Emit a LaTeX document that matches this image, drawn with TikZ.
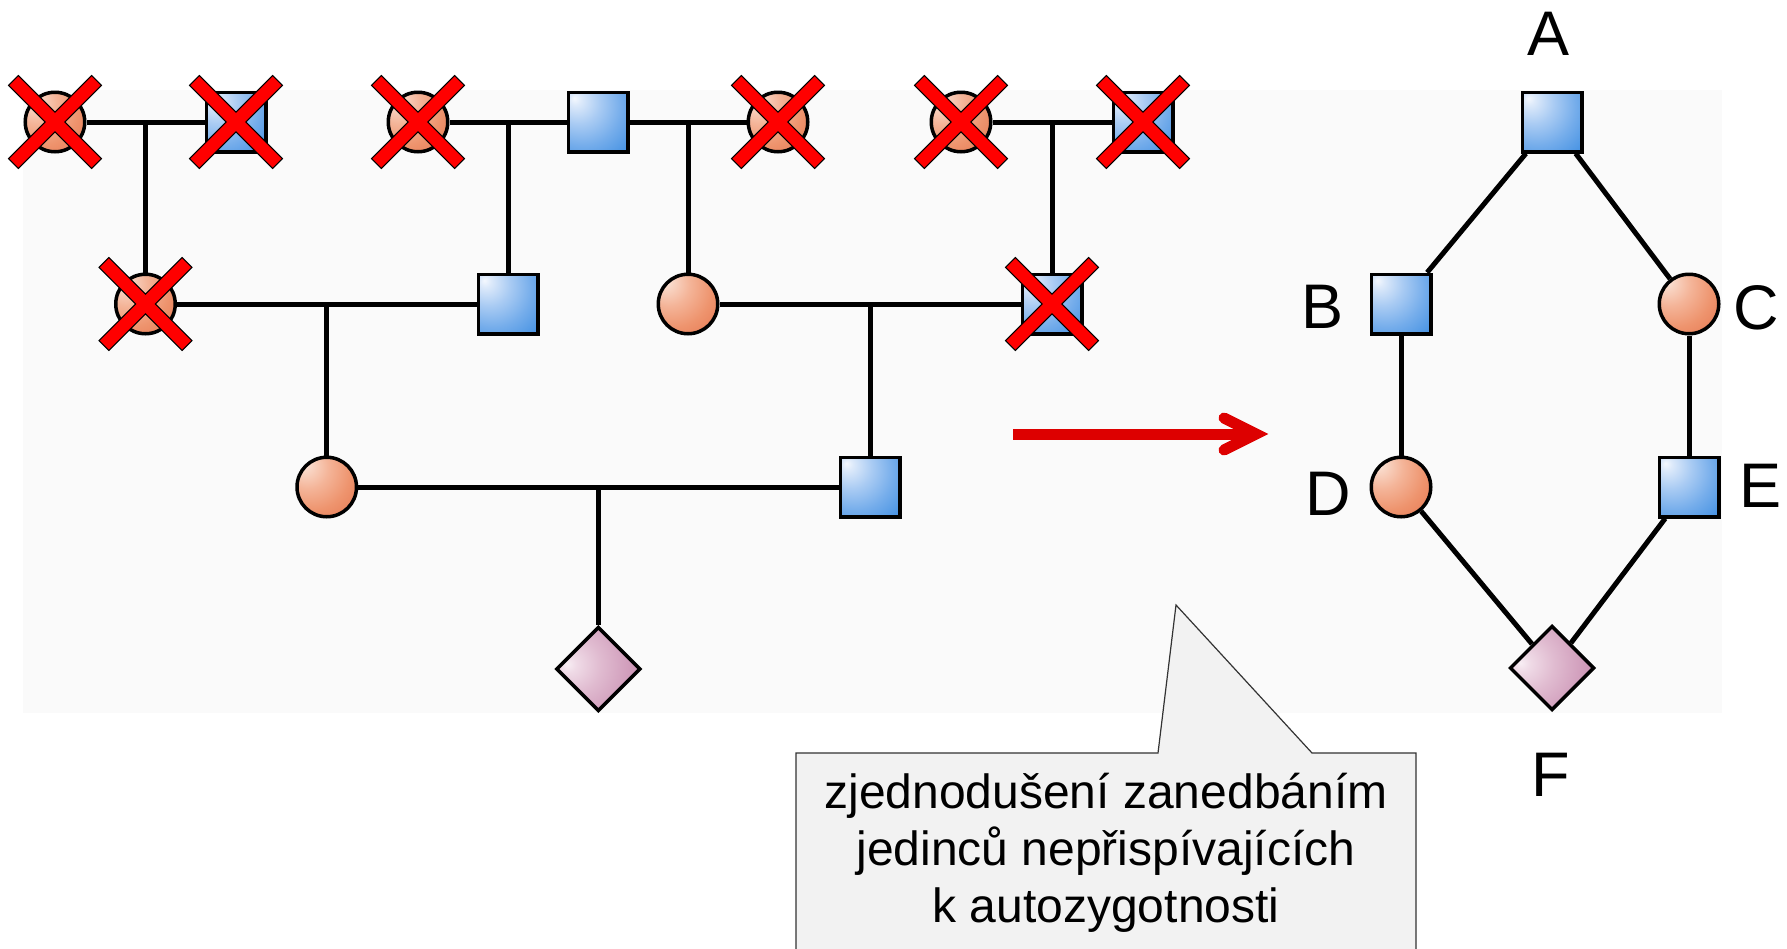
\documentclass[tikz,border=0pt]{standalone}
\usepackage{fontspec}
\setmainfont{Liberation Sans}
\usetikzlibrary{shapes.geometric,calc}

\definecolor{bgc}{HTML}{FAFAFA}
\definecolor{bl0}{HTML}{F4F8FE}
\definecolor{bl1}{HTML}{DCE9FA}
\definecolor{bl2}{HTML}{A9CBF3}
\definecolor{bl3}{HTML}{75ADEB}
\definecolor{bl4}{HTML}{4290E2}
\definecolor{bl5}{HTML}{1E79D7}
\definecolor{or0}{HTML}{FDF0EA}
\definecolor{or1}{HTML}{F9D8C8}
\definecolor{or2}{HTML}{F4B498}
\definecolor{or3}{HTML}{EE946E}
\definecolor{or4}{HTML}{E67750}
\definecolor{or5}{HTML}{DC6238}
\definecolor{pk0}{HTML}{F8EEF4}
\definecolor{pk1}{HTML}{EFDAE6}
\definecolor{pk2}{HTML}{E0BBD0}
\definecolor{pk3}{HTML}{D19EBC}
\definecolor{pk4}{HTML}{C183A8}
\definecolor{pk5}{HTML}{B06C96}
\definecolor{arrowred}{HTML}{DD0000}
\definecolor{xred}{HTML}{FF0000}
\definecolor{notefill}{HTML}{F2F2F2}
\definecolor{noteline}{HTML}{333333}

\pgfdeclareradialshading{bluesh}{\pgfpoint{-20bp}{20bp}}{color(0bp)=(bl0); color(5bp)=(bl1); color(18bp)=(bl2); color(33bp)=(bl3); color(50bp)=(bl4); color(68bp)=(bl5); color(100bp)=(bl5)}
\pgfdeclareradialshading{orangesh}{\pgfpoint{-20bp}{20bp}}{color(0bp)=(or0); color(5bp)=(or1); color(18bp)=(or2); color(33bp)=(or3); color(50bp)=(or4); color(66bp)=(or5); color(100bp)=(or5)}
\pgfdeclareradialshading{pinksh}{\pgfpoint{-19bp}{3bp}}{color(0bp)=(pk0); color(5bp)=(pk1); color(17bp)=(pk2); color(31bp)=(pk3); color(46bp)=(pk4); color(62bp)=(pk5); color(100bp)=(pk5)}

\tikzset{
  ind/.style={draw=black, line width=3.5pt, inner sep=0pt},
  male/.style={ind, rectangle, minimum size=59.5pt, shading=bluesh},
  female/.style={ind, circle, minimum size=59.5pt, shading=orangesh},
  unk/.style={ind, diamond, minimum size=84.5pt, shading=pinksh},
  link/.style={line width=5pt, black},
  lab/.style={font=\fontsize{63}{75}\selectfont, anchor=base, inner sep=0pt},
  notetext/.style={font=\fontsize{48}{59}\selectfont, anchor=base, inner sep=0pt},
  xmark/.pic={\fill[xred, draw=black, line width=1pt, line join=miter]
    (9.9,0) -- (46.5,36.6) -- (36.6,46.5) -- (0,9.9) -- (-36.6,46.5) -- (-46.5,36.6)
    -- (-9.9,0) -- (-46.5,-36.6) -- (-36.6,-46.5) -- (0,-9.9) -- (36.6,-46.5)
    -- (46.5,-36.6) -- cycle;}
}

\begin{document}
\begin{tikzpicture}[x=1pt, y=-1pt]
\useasboundingbox (0,0) rectangle (1787,948);
\fill[bgc] (23,90) rectangle (1722,713);

% ---- left pedigree ----
\node[female] (f1) at (55,122) {};
\node[male]   (m1) at (236,122) {};
\node[female] (f2) at (418,122) {};
\node[male]   (m2) at (598,122) {};
\node[female] (f3) at (778,122) {};
\node[female] (f4) at (961,122) {};
\node[male]   (m4) at (1143,122) {};

\node[female] (g1) at (145.5,304) {};
\node[male]   (g2) at (508,304) {};
\node[female] (g3) at (688,304) {};
\node[male]   (g4) at (1052,304) {};

\node[female] (h1) at (326.75,487) {};
\node[male]   (h2) at (870,487) {};

\node[unk] (k) at (598.375,669) {};

\coordinate (c1) at ($(f1)!0.5!(m1)$);
\coordinate (c2) at ($(f2)!0.5!(m2)$);
\coordinate (c3) at ($(m2)!0.5!(f3)$);
\coordinate (c4) at ($(f4)!0.5!(m4)$);
\coordinate (c5) at ($(g1)!0.5!(g2)$);
\coordinate (c6) at ($(g3)!0.5!(g4)$);
\coordinate (c7) at ($(h1)!0.5!(h2)$);

\draw[link] (f1) -- (m1);
\draw[link] (f2) -- (m2);
\draw[link] (m2) -- (f3);
\draw[link] (f4) -- (m4);
\draw[link] (g1) -- (g2);
\draw[link] (g3) -- (g4);
\draw[link] (h1) -- (h2);
\draw[link] (c1) -- (g1);
\draw[link] (c2) -- (g2);
\draw[link] (c3) -- (g3);
\draw[link] (c4) -- (g4);
\draw[link] (c5) -- (h1);
\draw[link] (c6) -- (h2);
\draw[link] (c7) -- (k);

% crosses
\pic at (f1) {xmark};
\pic at (m1) {xmark};
\pic at (f2) {xmark};
\pic at (f3) {xmark};
\pic at (f4) {xmark};
\pic at (m4) {xmark};
\pic at (g1) {xmark};
\pic at (g4) {xmark};

% ---- arrow ----
\coordinate (as) at (1013,434);
\coordinate (ae) at (1252,434);
\coordinate (at) at (1256,434);
\coordinate (au) at (1224,418);
\coordinate (ad) at (1224,450);
\draw[line width=11pt, arrowred] (as) -- (ae);
\draw[line width=11pt, arrowred, line cap=round, line join=miter, miter limit=10] (au) -- (at) -- (ad);

% ---- right simplified graph ----
\node[male]   (A) at (1552,122) {};
\node[male]   (B) at (1401,304) {};
\node[female] (C) at (1689,304) {};
\node[female] (D) at (1401,487) {};
\node[male]   (E) at (1689,487) {};
\node[unk]    (F) at (1552,668) {};

\draw[link] (A) -- (B);
\draw[link] (A) -- (C);
\draw[link] (B) -- (D);
\draw[link] (C) -- (E);
\draw[link] (D) -- (F);
\draw[link] (E) -- (F);

\node[lab] (lA) at (1548,55) {A};
\node[lab] (lB) at (1322,328) {B};
\node[lab] (lC) at (1756,329) {C};
\node[lab] (lD) at (1328,515) {D};
\node[lab] (lE) at (1760,507) {E};
\node[lab] (lF) at (1551,796) {F};

% ---- callout ----
\draw[fill=notefill, draw=noteline, line width=1.2pt, line join=miter]
  (796,753) -- (1158,753) -- (1176,605) -- (1312,753) -- (1416,753)
  -- (1416,965) -- (796,965) -- cycle;
\node[notetext] (n1) at (1106,808) {zjednodušení zanedbáním};
\node[notetext] (n2) at (1106,865) {jedinců nepřispívajících};
\node[notetext] (n3) at (1106,922) {k autozygotnosti};
\end{tikzpicture}
\end{document}
